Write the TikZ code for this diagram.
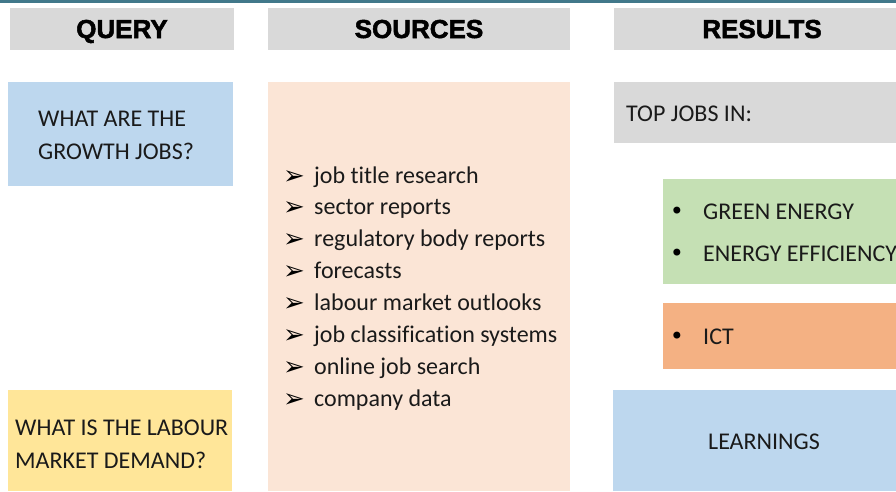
\documentclass[tikz,border=0pt]{standalone}
\usepackage{fontspec}
\setmainfont{Carlito}[Ligatures=NoCommon]
\newfontfamily\headfont{Liberation Sans}[BoldFeatures={FakeBold=2}]
\newfontfamily\symfont{DejaVu Sans}
\definecolor{hdrgray}{HTML}{D9D9D9}
\definecolor{qblue}{HTML}{BDD7EE}
\definecolor{srcpeach}{HTML}{FBE5D6}
\definecolor{resgreen}{HTML}{C5E0B4}
\definecolor{resorange}{HTML}{F4B183}
\definecolor{qyellow}{HTML}{FFE699}
\definecolor{topline}{HTML}{41788A}
\definecolor{ink}{HTML}{1A1A1A}
\begin{document}
\begin{tikzpicture}[x=1pt,y=-1pt,
  panel/.style={draw=none,inner sep=0pt,outer sep=0pt,anchor=north west},
  header/.style={font=\headfont\bfseries\fontsize{26}{30}\selectfont,text=black,anchor=base,inner sep=0pt},
  body/.style={font=\fontsize{24}{28}\selectfont,text=ink,anchor=base west,inner sep=0pt},
  arrowmark/.style={font=\symfont\fontsize{26}{28}\selectfont,text=black,anchor=base west,inner sep=0pt},
  dotmark/.style={font=\symfont\fontsize{24}{28}\selectfont,text=black,anchor=base,inner sep=0pt}]
\useasboundingbox (0,0) rectangle (896,491);
\fill[white] (0,0) rectangle (896,491);
% rule along the top edge
\fill[topline] (0,0) rectangle (896,3);

% column headers
\node[panel,fill=hdrgray,minimum width=224pt,minimum height=42pt] (hq) at (10,8) {};
\node[panel,fill=hdrgray,minimum width=302pt,minimum height=42pt] (hs) at (268,8) {};
\node[panel,fill=hdrgray,minimum width=290pt,minimum height=42pt] (hr) at (614,8) {};
\node[header] (hqt) at (122,38) {QUERY};
\node[header] (hst) at (419,38) {SOURCES};
\node[header] (hrt) at (762,38) {RESULTS};

% query column
\node[panel,fill=qblue,minimum width=225pt,minimum height=104pt] (q1) at (8,82) {};
\node[body] (q1a) at (38,126) {WHAT ARE THE};
\node[body] (q1b) at (38,159) {GROWTH JOBS?};
\node[panel,fill=qyellow,minimum width=224pt,minimum height=101pt] (q2) at (8,390) {};
\node[body] (q2a) at (15,435) {WHAT IS THE LABOUR};
\node[body] (q2b) at (15,468) {MARKET DEMAND?};

% sources column
\node[panel,fill=srcpeach,minimum width=302pt,minimum height=409pt] (src) at (268,82) {};
\foreach \t [count=\i from 0] in {job title research,sector reports,regulatory body reports,forecasts,labour market outlooks,job classification systems,online job search,company data}{
  \node[arrowmark] (sa\i) at (283,{184+31.9*\i}) {➢};
  \node[body] (s\i) at (314,{183+31.9*\i}) {\t};
}

% results column
\node[panel,fill=hdrgray,minimum width=290pt,minimum height=61pt] (top) at (614,82) {};
\node[body] (topt) at (626,121) {TOP JOBS IN:};
\node[panel,fill=resgreen,minimum width=240pt,minimum height=105pt] (grn) at (663,179) {};
\node[dotmark] (g1d) at (677,219) {•};
\node[body] (g1) at (703,219) {GREEN ENERGY};
\node[dotmark] (g2d) at (677,261) {•};
\node[body] (g2) at (703,261) {ENERGY EFFICIENCY};
\node[panel,fill=resorange,minimum width=240pt,minimum height=66pt] (org) at (663,303) {};
\node[dotmark] (o1d) at (677,344) {•};
\node[body] (o1) at (703,344) {ICT};
\node[panel,fill=qblue,minimum width=290pt,minimum height=101pt] (lrn) at (613,390) {};
\node[body,anchor=base] (lrnt) at (764,449) {LEARNINGS};
\end{tikzpicture}
\end{document}
